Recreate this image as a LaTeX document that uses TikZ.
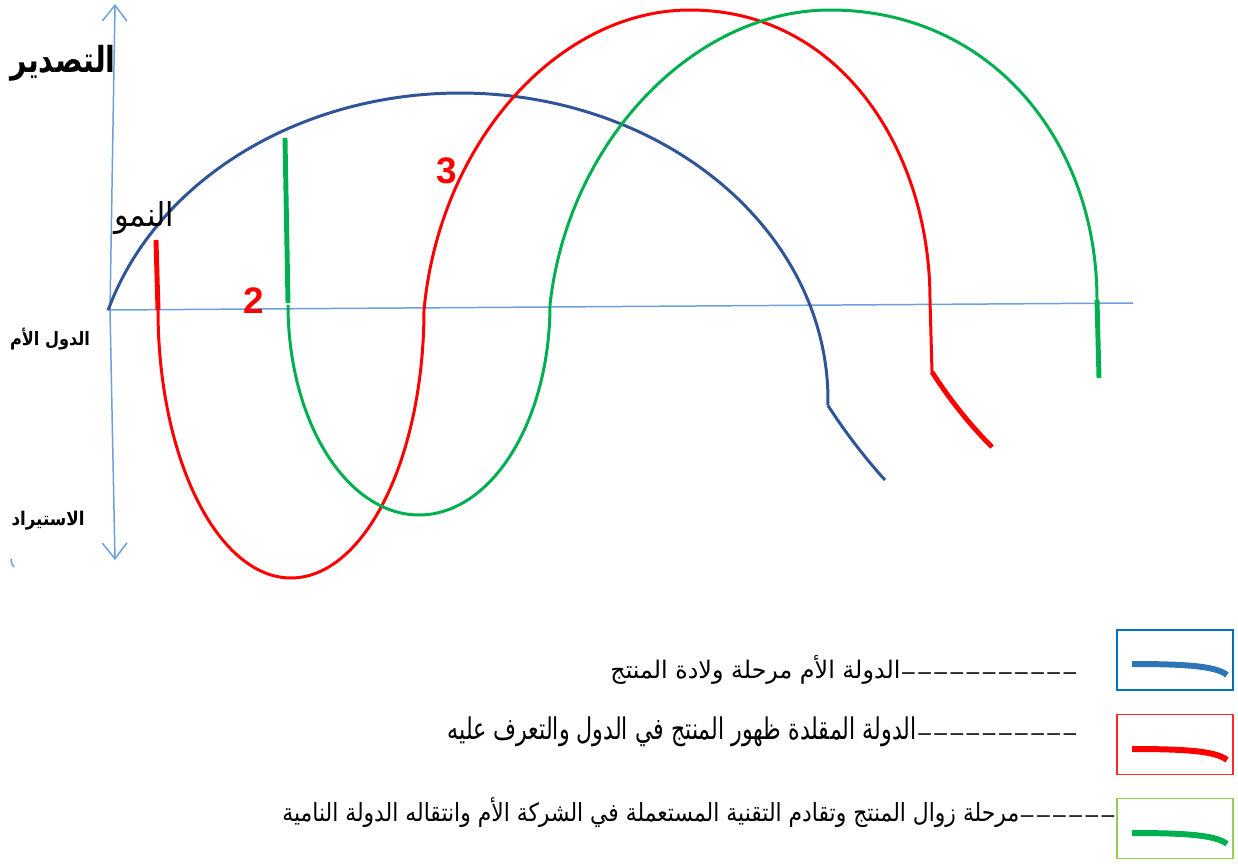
\documentclass[tikz,border=0pt]{standalone}
\usepackage{fontspec}
\usetikzlibrary{arrows.meta,calc}
\TeXXeTstate=1
\newfontfamily\arfont[Script=Arabic]{DejaVu Sans}
\newfontfamily\numfont{Liberation Sans}
\newfontfamily\dashfont{Liberation Serif}
\newcommand\hy{\mbox{-}}
\definecolor{axisblue}{RGB}{108,160,218}
\definecolor{curveblue}{RGB}{47,85,151}
\definecolor{curvered}{RGB}{255,0,0}
\definecolor{curvegreen}{RGB}{0,176,80}
\definecolor{legblue}{RGB}{46,117,182}
\definecolor{boxblue}{RGB}{0,112,192}
\definecolor{boxgreen}{RGB}{146,208,80}
\definecolor{boxred}{RGB}{255,40,40}
\tikzset{
  axisline/.style={draw=axisblue, line width=0.85pt},
  axisarrow/.style={axisline, -{Straight Barb[length=9pt,width=14pt]}},
  curve/.style={line width=1.7pt},
  thickseg/.style={line width=2.8pt},
  lbl/.style={inner sep=0pt, outer sep=0pt},
  legbox/.style={line width=1.1pt, minimum width=2.32cm, minimum height=1.2cm, inner sep=0pt},
  legline/.style={line width=3.4pt},
  num/.style={inner sep=0pt, text=curvered, font=\numfont\bfseries\fontsize{21}{21}\selectfont},
  dashtxt/.style={lbl, anchor=base east, font=\dashfont\fontsize{12}{12}\selectfont},
  legtxt/.style={lbl, anchor=base east},
}
\begin{document}
\begin{tikzpicture}[x=0.02cm,y=-0.02cm]
\useasboundingbox (0,0) rectangle (1238,863);
% axes
\coordinate (O) at (110,310);
\coordinate (ytop) at (115,4);
\coordinate (ybot) at (115,560);
\coordinate (xend) at (1133,303);
\draw[axisarrow] (O) -- (ytop);
\draw[axisarrow] (O) -- (ybot);
\draw[axisline] (O) -- (xend);
\draw[axisline] (11,559) .. controls (11,562) and (12,565) .. (14,567);
% blue curve
\draw[curveblue, curve] plot[domain=163:-1, samples=150] ({460+368*cos(\x)}, {400-307*sin(\x)});
\draw[curveblue, curve] (827.9,405.4) .. controls (845,432) and (865,458) .. (885,480);
% red curve
\draw[curvered, thickseg] (156,240) -- (158,310);
\draw[curvered, curve] plot[domain=180:360, samples=120] ({291+133*cos(\x)}, {310-268*sin(\x)});
\draw[curvered, curve] (424,310) .. controls (440,140) and (560,10) .. (690,10)
   .. controls (840,10) and (930,150) .. (930,300) -- (932,372);
\draw[curvered, thickseg] (932,372) .. controls (950,400) and (970,425) .. (992,447);
% green curve
\draw[curvegreen, thickseg] (285,138) -- (288,303);
\draw[curvegreen, curve] plot[domain=180:360, samples=120] ({419+131*cos(\x)}, {305-210*sin(\x)});
\draw[curvegreen, curve] (550,305) .. controls (568,140) and (695,10) .. (830,10)
   .. controls (990,10) and (1097,140) .. (1097,300);
\draw[curvegreen, thickseg] (1097,300) -- (1099,378);
% axis labels
\node[lbl] (export) at (63,63) {\resizebox*{2.1cm}{0.72cm}{\arfont\bfseries\beginR التصدير\endR}};
\node[lbl] (growth) at (144,218) {\resizebox*{1.2cm}{0.66cm}{\arfont\beginR النمو\endR}};
\node[lbl] (home) at (50,339) {\resizebox*{1.6cm}{0.44cm}{\arfont\bfseries\beginR الدول الأم\endR}};
\node[lbl] (import) at (48,521) {\resizebox*{1.46cm}{0.38cm}{\arfont\bfseries\beginR الاستيراد\endR}};
\node[num] (n2) at (254,301) {2};
\node[num] (n3) at (447,171) {3};
% legend boxes
\node[legbox, draw=boxblue] (bbox) at (1175,660) {};
\node[legbox, draw=boxred] (rbox) at (1175,744.5) {};
\node[legbox, draw=boxgreen] (gbox) at (1175,828.5) {};
\draw[legblue, legline] (1132,664) .. controls (1185,664) and (1216,666) .. (1227,675);
\draw[curvered, legline] (1132,749) .. controls (1185,749) and (1216,751) .. (1227,760);
\draw[curvegreen, legline] (1132,833) .. controls (1185,833) and (1216,835) .. (1227,844);
% legend texts
\node[dashtxt] (d1) at (1078,678) {\scalebox{2.3}[1]{\hy\hy\hy\hy\hy\hy\hy\hy\hy\hy\hy}};
\node[legtxt] (t1) at (d1.base west) {\resizebox*{5.8cm}{0.58cm}{\arfont\beginR الدولة الأم مرحلة ولادة المنتج\endR}};
\node[dashtxt] (d2) at (1078,739) {\scalebox{2.3}[1]{\hy\hy\hy\hy\hy\hy\hy\hy\hy\hy}};
\node[legtxt] (t2) at (d2.base west) {\resizebox*{9.38cm}{0.6cm}{\arfont\beginR الدولة المقلدة ظهور المنتج في الدول والتعرف عليه\endR}};
\node[dashtxt] (d3) at (gbox.west |- 0,821) {\scalebox{2.3}[1]{\hy\hy\hy\hy\hy\hy}};
\node[legtxt] (t3) at (d3.base west) {\resizebox*{14.74cm}{0.6cm}{\arfont\beginR مرحلة زوال المنتج وتقادم التقنية المستعملة  في الشركة الأم وانتقاله الدولة النامية\endR}};
\end{tikzpicture}
\end{document}
